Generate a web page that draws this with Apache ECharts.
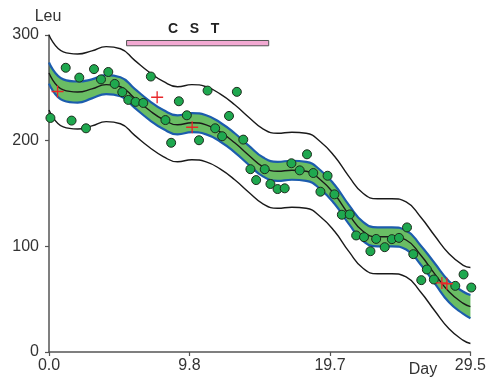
<!DOCTYPE html>
<html>
<head>
<meta charset="utf-8">
<script src="https://cdn.jsdelivr.net/npm/echarts@6/dist/echarts.min.js"></script>
<style>
  html, body { margin: 0; background: #fff; }
  #chart { width: 489px; height: 382px; }
</style>
</head>
<body>
<div id="chart"></div>
<script>
// fitted curve and bands, read at each day
var days = [0, 1, 2, 3, 4, 5, 6, 7, 8, 9, 10, 11, 12, 13, 14, 15, 16, 17, 18, 19, 20, 21, 22, 23, 24, 25, 26, 27, 28, 29, 29.5];
var fitLine = [264, 248, 246, 249, 253, 251, 240, 229, 220, 215, 217, 215, 208, 198, 186, 175, 171, 172, 171, 163, 149, 130, 114, 109, 109, 106, 92, 74, 57, 46, 43];
var ciUpper = [274, 258, 256, 258, 262, 260, 249, 238, 229, 224, 226, 224, 217, 207, 195, 184, 180, 181, 180, 172, 158, 139, 123, 118, 118, 115, 101, 84, 67, 57, 54];
var ciLower = [254, 238, 236, 240, 244, 242, 231, 220, 211, 206, 208, 206, 199, 189, 177, 166, 162, 163, 162, 154, 140, 121, 105, 100, 100, 97, 83, 65, 47, 36, 32];
var piUpper = [300, 284, 282, 285, 289, 287, 276, 265, 256, 251, 253, 251, 244, 234, 222, 211, 207, 208, 207, 199, 185, 166, 150, 145, 145, 142, 128, 110, 93, 82, 80];
var piLower = [229, 213, 211, 214, 218, 216, 205, 194, 185, 180, 182, 180, 173, 163, 151, 140, 136, 137, 136, 128, 114, 95, 79, 74, 74, 71, 57, 39, 22, 11, 8];

// observations
var obsDays = [0.1, 1.17, 1.58, 2.12, 2.59, 3.15, 3.64, 4.15, 4.6, 5.13, 5.55, 6.06, 6.6, 7.13, 8.15, 8.55, 9.09, 9.65, 10.5, 11.1, 11.63, 12.12, 12.6, 13.15, 13.6, 14.1, 14.5, 15.1, 15.5, 16.0, 16.5, 16.97, 17.55, 18.06, 18.5, 19.0, 19.5, 19.98, 20.5, 21.05, 21.5, 22.05, 22.5, 22.9, 23.5, 24.0, 24.5, 25.06, 25.5, 26.06, 26.45, 26.94, 28.44, 29.02, 29.56];
var obsValues = [221.5, 269, 219, 259.7, 211.7, 267.7, 258, 265, 253.7, 245.9, 238.6, 236.7, 235.7, 260.7, 219.5, 198, 237.3, 224, 200.4, 247.4, 211.7, 204.2, 223.4, 246.2, 201, 173, 162.7, 173, 159, 154.2, 154.9, 178.6, 171.9, 187.1, 169.4, 151.7, 166.8, 149.2, 129.9, 130.2, 110.3, 108.7, 95.4, 107, 99.2, 106.8, 108, 117.9, 92.6, 68, 78.1, 68.6, 62.6, 73.4, 61];

// red crosses
var crossDays = [0.6, 7.57, 10.02, 27.5, 27.85];
var crossValues = [246.5, 241.1, 212.7, 65.4, 64.6];

var xTickLabels = ['0.0', '9.8', '19.7', '29.5'];
var xMax = 29.5;
var xInterval = xMax / 3;

function pairs(xs, ys) {
  return xs.map(function (x, i) { return [x, ys[i]]; });
}
// value first, so the stack is applied to the y dimension
function stackPairs(xs, ys) {
  return xs.map(function (x, i) { return [ys[i], x]; });
}

var chart = echarts.init(document.getElementById('chart'));
var font = 'Liberation Sans, Arial, Helvetica, sans-serif';
var axisColor = '#555';

var option = {
  animation: false,
  textStyle: { fontFamily: font },
  grid: { left: 49, right: 18, top: 35, bottom: 30 },
  xAxis: {
    type: 'value',
    min: 0,
    max: xMax,
    interval: xInterval,
    z: 5,
    splitLine: { show: false },
    axisLine: { lineStyle: { color: axisColor, width: 1.5 } },
    axisTick: { length: 4, lineStyle: { color: axisColor, width: 1.2 } },
    axisLabel: {
      color: '#333', fontSize: 16, fontFamily: font, margin: 6,
      formatter: function (v) { return xTickLabels[Math.round(v / xInterval)]; }
    }
  },
  yAxis: {
    type: 'value',
    min: 0,
    max: 300,
    interval: 100,
    z: 5,
    splitLine: { show: false },
    axisLine: { show: true, lineStyle: { color: axisColor, width: 1.5 } },
    axisTick: { show: true, length: 4, lineStyle: { color: axisColor, width: 1.2 } },
    axisLabel: { color: '#333', fontSize: 16, fontFamily: font, margin: 10 }
  },
  graphic: [
    { type: 'text', x: 48, y: 17, style: { text: 'Leu', fontSize: 16, fontFamily: font, fill: '#333', textAlign: 'center', textVerticalAlign: 'middle' } },
    { type: 'text', x: 423, y: 370, style: { text: 'Day', fontSize: 16, fontFamily: font, fill: '#333', textAlign: 'center', textVerticalAlign: 'middle' } }
  ],
  series: [
    // green band as a stack: lower edge + band height
    {
      name: 'ciBase', type: 'line', stack: 'ci', smooth: true, symbol: 'none', z: 1,
      encode: { x: 1, y: 0 },
      lineStyle: { width: 0, opacity: 0 },
      data: stackPairs(days, ciLower)
    },
    {
      name: 'ciFill', type: 'line', stack: 'ci', smooth: true, symbol: 'none', z: 1,
      encode: { x: 1, y: 0 },
      lineStyle: { width: 0, opacity: 0 },
      areaStyle: { color: '#6abd64', opacity: 1 },
      data: stackPairs(days, ciUpper.map(function (v, i) { return v - ciLower[i]; }))
    },
    {
      name: 'ciUpper', type: 'line', smooth: true, symbol: 'none', z: 6,
      lineStyle: { color: '#1c5cad', width: 2.2 },
      data: pairs(days, ciUpper)
    },
    {
      name: 'ciLower', type: 'line', smooth: true, symbol: 'none', z: 6,
      lineStyle: { color: '#1c5cad', width: 2.2 },
      data: pairs(days, ciLower)
    },
    {
      name: 'fit', type: 'line', smooth: true, symbol: 'none', z: 7,
      lineStyle: { color: '#1a1a1a', width: 1.4 },
      data: pairs(days, fitLine),
      markArea: {
        silent: true,
        itemStyle: { color: '#f2a9d2', borderColor: '#555', borderWidth: 1 },
        label: {
          show: true, position: 'top', distance: 4, offset: [-4, 0],
          formatter: 'C   S   T', fontSize: 14, fontWeight: 'bold', color: '#222', fontFamily: font
        },
        data: [[{ xAxis: 5.43, yAxis: 289.8 }, { xAxis: 15.38, yAxis: 294.8 }]]
      }
    },
    {
      name: 'piUpper', type: 'line', smooth: true, symbol: 'none', z: 7,
      lineStyle: { color: '#1a1a1a', width: 1.4 },
      data: pairs(days, piUpper)
    },
    {
      name: 'piLower', type: 'line', smooth: true, symbol: 'none', z: 7,
      lineStyle: { color: '#1a1a1a', width: 1.4 },
      data: pairs(days, piLower)
    },
    {
      name: 'obs', type: 'scatter', symbol: 'circle', symbolSize: 9, z: 8, clip: false,
      itemStyle: { color: '#1fa84f', borderColor: '#1d2b1d', borderWidth: 1, opacity: 1 },
      data: pairs(obsDays, obsValues)
    },
    {
      name: 'cross', type: 'scatter', z: 9, clip: false,
      symbol: 'path://M0,8.9L20,8.9L20,11.1L0,11.1ZM8.9,0L11.1,0L11.1,20L8.9,20Z',
      symbolSize: 12,
      itemStyle: { color: '#e8262a', opacity: 1 },
      data: pairs(crossDays, crossValues)
    }
  ]
};

chart.setOption(option);
</script>
</body>
</html>
